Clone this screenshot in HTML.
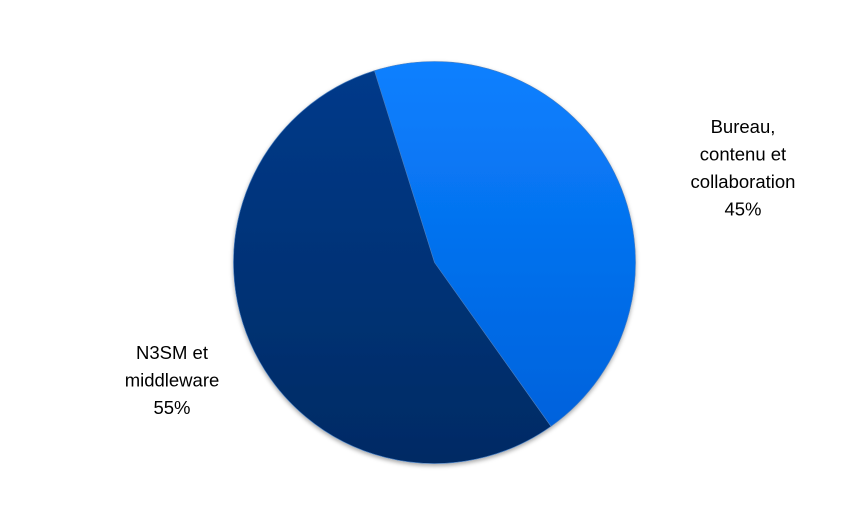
<!DOCTYPE html>
<html><head><meta charset="utf-8"><style>
html,body{margin:0;padding:0;background:#fff;}
svg{display:block;font-family:"Liberation Sans",sans-serif;}
</style></head><body>
<svg id="chart" width="868" height="521" viewBox="0 0 868 521">
<defs>
<linearGradient id="gLight" x1="0" y1="0" x2="0" y2="1"><stop offset="0" stop-color="#0a80ff"/><stop offset="1" stop-color="#0062dc"/></linearGradient>
<linearGradient id="gDark" x1="0" y1="0" x2="0" y2="1"><stop offset="0" stop-color="#003a8a"/><stop offset="1" stop-color="#002b64"/></linearGradient>
<filter id="sh" x="-10%" y="-10%" width="120%" height="120%"><feDropShadow dx="0" dy="2" stdDeviation="2" flood-color="#000" flood-opacity="0.35"/></filter>
</defs>
<g id="slices" filter="url(#sh)"></g>
<g id="labels"></g>
</svg>
<script>
const categories = ["Bureau, contenu et collaboration", "N3SM et middleware"];
const values = [45, 55];
const labelLines = [["Bureau,", "contenu et", "collaboration", "45%"], ["N3SM et", "middleware", "55%"]];
const fills = ["url(#gLight)", "url(#gDark)"];
const names = ["slice-bureau-contenu-collaboration", "slice-n3sm-middleware"];
const cx = 434.5, cy = 262.5, r = 201, startDeg = -17.4;
const labelPos = [[743, 133], [172, 359]];
const ns = "http://www.w3.org/2000/svg";
const total = values.reduce((a, b) => a + b, 0);
function pt(deg) { const a = deg * Math.PI / 180; return [cx + r * Math.sin(a), cy - r * Math.cos(a)]; }
let cur = startDeg;
const gS = document.getElementById("slices"), gL = document.getElementById("labels");
values.forEach((v, i) => {
  const sweep = v / total * 360;
  const p0 = pt(cur), p1 = pt(cur + sweep);
  const path = document.createElementNS(ns, "path");
  path.setAttribute("d", `M${cx},${cy} L${p0[0]},${p0[1]} A${r},${r} 0 ${sweep > 180 ? 1 : 0} 1 ${p1[0]},${p1[1]} Z`);
  path.setAttribute("fill", fills[i]);
  path.setAttribute("stroke", "#4a7fc0");
  path.setAttribute("stroke-width", "0.6");
  
  
  gS.appendChild(path);
  cur += sweep;
  const t = document.createElementNS(ns, "text");
  t.setAttribute("x", labelPos[i][0]); t.setAttribute("y", labelPos[i][1]);
  t.setAttribute("text-anchor", "middle"); t.setAttribute("font-size", "18.5"); t.setAttribute("fill", "#000");
  
  
  labelLines[i].forEach((ln, j) => {
    const s = document.createElementNS(ns, "tspan");
    s.setAttribute("x", labelPos[i][0]); s.setAttribute("dy", j === 0 ? 0 : 27.5);
    s.textContent = ln; t.appendChild(s);
  });
  gL.appendChild(t);
});
</script>
</body></html>
